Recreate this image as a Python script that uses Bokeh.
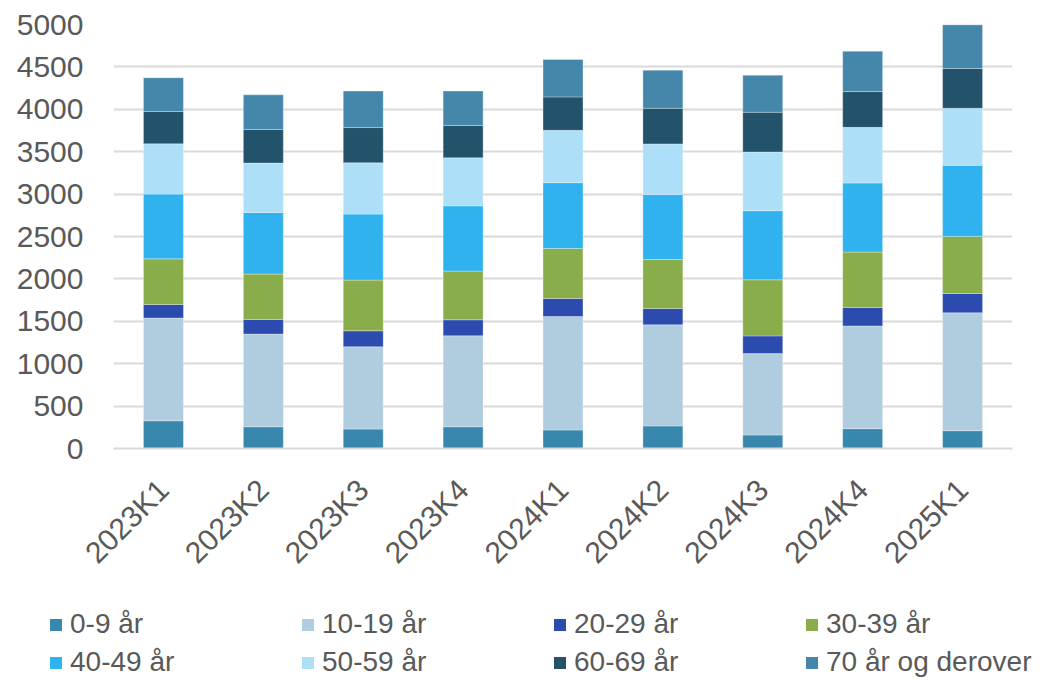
import math
from bokeh.plotting import figure
from bokeh.layouts import column
from bokeh.models import Range1d, FactorRange, Legend, LegendItem, SingleIntervalTicker
from bokeh.embed import file_html
from bokeh.resources import INLINE

quarters = ["2023K1", "2023K2", "2023K3", "2023K4", "2024K1", "2024K2", "2024K3", "2024K4", "2025K1"]
age_0_9   = [327, 256, 229, 256, 218, 266, 159, 234, 210]
age_10_19 = [1211, 1093, 970, 1073, 1338, 1192, 960, 1212, 1390]
age_20_29 = [160, 172, 189, 189, 213, 193, 209, 216, 228]
age_30_39 = [539, 536, 598, 574, 590, 578, 661, 654, 673]
age_40_49 = [763, 726, 778, 770, 776, 767, 815, 815, 838]
age_50_59 = [593, 583, 605, 566, 617, 596, 693, 656, 673]
age_60_69 = [381, 396, 416, 381, 394, 420, 468, 422, 469]
age_70p   = [397, 409, 430, 406, 441, 449, 436, 476, 515]

series_names = ["0-9 år", "10-19 år", "20-29 år", "30-39 år", "40-49 år", "50-59 år", "60-69 år", "70 år og derover"]
series_keys = ["a0", "a10", "a20", "a30", "a40", "a50", "a60", "a70"]
colors = ["#3A87AE", "#AFCDDE", "#2C4BAF", "#8AAD4B", "#30B2EF", "#ADE0F8", "#23526B", "#4487AB"]

data = dict(q=quarters, a0=age_0_9, a10=age_10_19, a20=age_20_29, a30=age_30_39,
            a40=age_40_49, a50=age_50_59, a60=age_60_69, a70=age_70p)

FONT = "Liberation Sans"
TXT = "#595959"

p = figure(x_range=FactorRange(*quarters, range_padding=0), y_range=Range1d(0, 5000),
           width=1035, height=600, output_backend="svg", toolbar_location=None,
           min_border_left=113, min_border_right=23, min_border_top=24, min_border_bottom=152)
p.outline_line_color = None
p.background_fill_color = "white"
p.border_fill_color = "white"
p.frame_align = False

rs = p.vbar_stack(series_keys, x="q", width=0.4, source=data, color=colors,
                  line_color="white", line_width=0.6, line_alpha=0.5)

p.xgrid.grid_line_color = None
p.ygrid.grid_line_color = "#D9D9D9"
p.ygrid.grid_line_width = 2
p.yaxis.ticker = SingleIntervalTicker(interval=500)

for ax in (p.xaxis[0], p.yaxis[0]):
    ax.major_tick_line_color = None
    ax.minor_tick_line_color = None
    ax.major_tick_out = 0
    ax.major_tick_in = 0
    ax.major_label_text_font = FONT
    ax.major_label_text_font_size = "30px"
    ax.major_label_text_color = TXT

p.yaxis.axis_line_color = None
p.yaxis.major_label_standoff = 26
p.xaxis.axis_line_color = "#D9D9D9"
p.xaxis.axis_line_width = 2
p.xaxis.major_label_orientation = math.pi / 4
p.xaxis.major_label_standoff = 36

# legend panel (separate figure so the legend is not clipped by the chart frame)
lg = figure(width=1035, height=78, output_backend="svg", toolbar_location=None,
            x_axis_type=None, y_axis_type=None, min_border=0,
            x_range=Range1d(0, 1), y_range=Range1d(0, 1))
lg.outline_line_color = None
lg.grid.visible = False
lg.frame_align = False
dummies = [lg.vbar(x=[5], top=[1], width=0.1, fill_color=c, line_color=None) for c in colors]

items = [LegendItem(label=n, renderers=[r]) for n, r in zip(series_names, dummies)]
legend = Legend(items=items, ncols=4, orientation="horizontal", location=(48, 0),
                glyph_width=15, glyph_height=15, label_standoff=7, label_width=224,
                label_height=32, spacing=6, padding=0, margin=0,
                label_text_font=FONT, label_text_font_size="28px", label_text_color=TXT,
                border_line_color=None, background_fill_alpha=0)
lg.add_layout(legend, "center")

layout = column(p, lg, spacing=0)
open("out.html", "w").write(file_html(layout, INLINE))
